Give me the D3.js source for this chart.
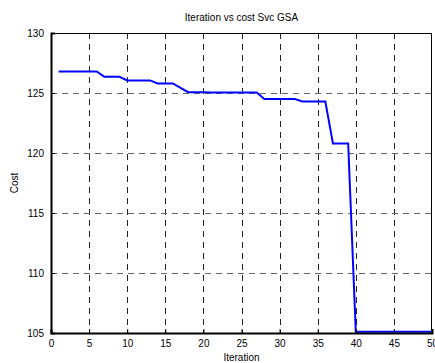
<!DOCTYPE html>
<html>
<head>
<meta charset="utf-8">
<script src="https://cdn.jsdelivr.net/npm/d3@7/dist/d3.min.js"></script>
<style>
  html, body { margin: 0; padding: 0; background: #fff; }
  svg { display: block; }
  text { font-family: "Liberation Sans", Arial, Helvetica, sans-serif; }
</style>
</head>
<body>
<svg id="chart" width="435" height="363"></svg>
<script>
const title = "Iteration vs cost Svc GSA";
const xLabel = "Iteration";
const yLabel = "Cost";
const iterations = d3.range(1, 51);
const cost = [
  126.8, 126.8, 126.8, 126.8, 126.8, 126.8,
  126.35, 126.35, 126.35,
  126.05, 126.05, 126.05, 126.05,
  125.8, 125.8, 125.8,
  125.43,
  125.07, 125.06, 125.06, 125.05, 125.05, 125.05, 125.05, 125.05, 125.05, 125.05,
  124.5, 124.5, 124.5, 124.5, 124.5,
  124.3, 124.3, 124.3, 124.3,
  120.8, 120.8, 120.8,
  105.1, 105.1, 105.1, 105.1, 105.1, 105.1, 105.1, 105.1, 105.1, 105.1, 105.1
];
const xTicks = [0, 5, 10, 15, 20, 25, 30, 35, 40, 45, 50];
const yTicks = [105, 110, 115, 120, 125, 130];

(function () {
const svg = d3.select("#chart");
const mLeft = 51, mRight = 432, mTop = 33, mBottom = 333;

const x = d3.scaleLinear().domain([0, 50]).range([mLeft, mRight]);
const y = d3.scaleLinear().domain([105, 130]).range([mBottom, mTop]);

// grid
const g = svg.append("g");
g.selectAll(".vgrid").data(xTicks.filter(t => t > 0 && t < 50)).enter().append("line")
  .attr("x1", d => Math.round(x(d)) + 0.5).attr("x2", d => Math.round(x(d)) + 0.5)
  .attr("y1", mTop).attr("y2", mBottom)
  .attr("stroke", "#222").attr("stroke-width", 1).attr("stroke-dasharray", "6,5");
g.selectAll(".hgrid").data(yTicks.filter(t => t > 105 && t < 130)).enter().append("line")
  .attr("x1", mLeft).attr("x2", mRight)
  .attr("y1", d => Math.round(y(d)) + 0.5).attr("y2", d => Math.round(y(d)) + 0.5)
  .attr("stroke", "#666").attr("stroke-width", 1).attr("stroke-dasharray", "6,5");

// line
const line = d3.line().x((d, i) => x(iterations[i])).y(d => y(d));
svg.append("path").datum(cost)
  .attr("d", line).attr("fill", "none")
  .attr("stroke", "#0000ff").attr("stroke-width", 2);

// frame
svg.append("rect").attr("x", mLeft + 0.5).attr("y", mTop + 0.5)
  .attr("width", mRight - mLeft - 1).attr("height", mBottom - mTop)
  .attr("fill", "none").attr("stroke", "#000").attr("stroke-width", 1);

// axes
const xAxis = d3.axisBottom(x).tickValues(xTicks).tickSize(-4).tickPadding(7).tickFormat(d3.format("d"));
const yAxis = d3.axisLeft(y).tickValues(yTicks).tickSize(-4).tickPadding(7).tickFormat(d3.format("d"));
const gx = svg.append("g").attr("transform", `translate(0,${mBottom})`).call(xAxis);
const gy = svg.append("g").attr("transform", `translate(${mLeft},0)`).call(yAxis);
[gx, gy].forEach(a => {
  a.select(".domain").attr("stroke", "#000").attr("stroke-width", 2);
  a.selectAll(".tick line").attr("stroke", "#000");
  a.selectAll("text").attr("font-size", 10).attr("fill", "#000")
    .attr("font-family", "'Liberation Sans', Arial, sans-serif");
});
gy.selectAll("text").attr("dy", "0.35em");

// title & labels
svg.append("text").attr("x", (mLeft + mRight) / 2).attr("y", 21)
  .attr("text-anchor", "middle").attr("font-size", 10).text(title);
svg.append("text").attr("x", (mLeft + mRight) / 2).attr("y", 361)
  .attr("text-anchor", "middle").attr("font-size", 10).text(xLabel);
svg.append("text").attr("transform", `translate(18,${(mTop + mBottom) / 2}) rotate(-90)`)
  .attr("text-anchor", "middle").attr("font-size", 10).text(yLabel);
})();
</script>
</body>
</html>
